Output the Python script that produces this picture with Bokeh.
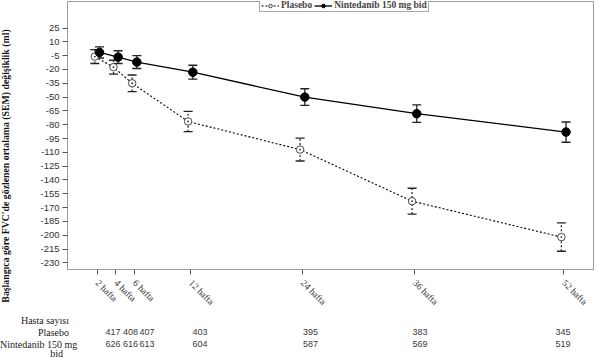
import math
from bokeh.plotting import figure
from bokeh.layouts import row, column
from bokeh.models import (ColumnDataSource, FixedTicker, Whisker, TeeHead,
                          Legend, LegendItem, Range1d, Div)
from bokeh.embed import file_html
from bokeh.resources import INLINE

# ---------------- data ----------------
weeks = [2, 4, 6, 12, 24, 36, 52]
week_labels = ["2 hafta", "4 hafta", "6 hafta", "12 hafta", "24 hafta", "36 hafta", "52 hafta"]
placebo_mean = [-6, -17.5, -35, -76.5, -107, -163, -202]
placebo_sem = [7.5, 7.5, 9, 11, 12.4, 14, 15.4]
ninte_mean = [-1.5, -6.6, -12, -23, -50, -68, -88]
ninte_sem = [6, 7, 7, 7.5, 9, 9.5, 11]
n_placebo = ["417", "408", "407", "403", "395", "383", "345"]
n_ninte = ["626", "616", "613", "604", "587", "569", "519"]
y_ticks = [25, 10, -5, -20, -35, -50, -65, -80, -95, -110, -125, -140, -155,
           -170, -185, -200, -215, -230]
series_names = ["Plasebo", "Nintedanib 150 mg bid"]
table_title = "Hasta sayısı"
row_names = ["Plasebo", "Nintedanib 150 mg", "bid"]
y_title = "Başlangıca göre FVC'de gözlenen ortalama (SEM) değişiklik (ml)"

# ---------------- layout (pixels) ----------------
W, H = 594, 358
TW = 12                      # y-title strip width
MH = 313                     # height of chart row
FL, FT, FB = 67, 1, 271      # frame left / top / bottom
X0, X1 = -1.18, 55.3
Y0, Y1 = -237.2, 53.8
DODGE = 0.25
count_px = [113, 130.5, 147, 200, 310.5, 420, 563]     # table column centres
row_top = [3, 15, 26.5, 36]                             # table row tops (in table area)
row_right = [69, 69, 70, 63]                            # right edges of row names

# ---------------- y-title strip ----------------
title_div = Div(
    text=('<div style="position:relative;width:%dpx;height:%dpx;">'
          '<div style="position:absolute;left:%.1fpx;top:%.1fpx;width:300px;height:10px;'
          'line-height:10px;text-align:center;font-family:\'Liberation Serif\';'
          'font-weight:bold;font-size:9.8px;color:#111111;white-space:nowrap;'
          'transform:rotate(-90deg);transform-origin:50%% 50%%;">%s</div></div>')
    % (TW, MH, 5.5 - 150, 166 - 5, y_title),
    width=TW, height=MH, margin=(0, 0, 0, 0))

# ---------------- main chart ----------------
p = figure(width=W - TW, height=MH, output_backend="svg", toolbar_location=None,
           x_range=Range1d(X0, X1), y_range=Range1d(Y0, Y1),
           min_border_left=FL - TW, min_border_right=0, min_border_top=FT,
           min_border_bottom=MH - FB)
p.grid.visible = False
p.outline_line_color = "#9a9a9a"
p.outline_line_width = 1

p.yaxis.ticker = FixedTicker(ticks=y_ticks)
p.yaxis.major_label_overrides = {v: str(v) for v in y_ticks}
p.xaxis.ticker = FixedTicker(ticks=weeks)
p.xaxis.major_label_overrides = dict(zip(weeks, week_labels))
p.xaxis.major_label_orientation = -math.pi / 4
for ax in (p.xaxis, p.yaxis):
    ax.axis_line_color = "#9a9a9a"
    ax.major_tick_line_color = "#555555"
    ax.major_tick_out = 5
    ax.major_tick_in = 0
    ax.minor_tick_line_color = None
    ax.major_label_text_color = "#333333"
p.yaxis.major_label_text_font = "Liberation Sans"
p.yaxis.major_label_text_font_size = "9.5px"
p.yaxis.major_label_standoff = 3
p.xaxis.major_label_text_font = "Liberation Serif"
p.xaxis.major_label_text_font_size = "9.5px"
p.xaxis.major_label_standoff = 7

src_p = ColumnDataSource(dict(x=[w - DODGE for w in weeks], y=placebo_mean,
                              lo=[m - s for m, s in zip(placebo_mean, placebo_sem)],
                              hi=[m + s for m, s in zip(placebo_mean, placebo_sem)]))
src_n = ColumnDataSource(dict(x=[w + DODGE for w in weeks], y=ninte_mean,
                              lo=[m - s for m, s in zip(ninte_mean, ninte_sem)],
                              hi=[m + s for m, s in zip(ninte_mean, ninte_sem)]))

wp = Whisker(base="x", upper="hi", lower="lo", source=src_p, line_color="#222222",
             line_width=1.2, line_dash="2 2",
             upper_head=TeeHead(size=9, line_color="#222222", line_width=1.3),
             lower_head=TeeHead(size=9, line_color="#222222", line_width=1.3))
wn = Whisker(base="x", upper="hi", lower="lo", source=src_n, line_color="#444444",
             line_width=1.5,
             upper_head=TeeHead(size=9, line_color="#222222", line_width=1.4),
             lower_head=TeeHead(size=9, line_color="#222222", line_width=1.4))
p.add_layout(wp)
p.add_layout(wn)

lp = p.line("x", "y", source=src_p, line_color="black", line_width=1.1, line_dash="2 2")
sp = p.scatter("x", "y", source=src_p, marker="circle_dot", size=7.5, fill_color="white",
               line_color="#333333", line_width=0.9)
ln = p.line("x", "y", source=src_n, line_color="black", line_width=1.3)
sn = p.scatter("x", "y", source=src_n, marker="circle", size=8.5, fill_color="black",
               line_color="black")

legend = Legend(items=[LegendItem(label=series_names[0], renderers=[lp, sp]),
                       LegendItem(label=series_names[1], renderers=[ln, sn])],
                orientation="horizontal", location=(192, 257), margin=0, padding=1,
                spacing=2, glyph_width=18, glyph_height=9, label_height=9,
                label_standoff=2, label_text_font="Liberation Serif",
                label_text_font_style="bold", label_text_font_size="9.5px",
                border_line_color="#555555", border_line_width=1,
                background_fill_alpha=1)
p.add_layout(legend)

# ---------------- patient-count table ----------------
def cell(text, left, top, width, align, family, size, color):
    return ('<div style="position:absolute;left:%.1fpx;top:%.1fpx;width:%.1fpx;'
            'text-align:%s;font-family:\'%s\';font-size:%.1fpx;line-height:9px;'
            'color:%s;white-space:nowrap;">%s</div>'
            % (left, top, width, align, family, size, color, text))

cells = []
for txt, top, right in zip([table_title] + row_names, row_top, row_right):
    cells.append(cell(txt, 0, top, right, "right", "Liberation Serif", 10, "#1a1a1a"))
for cx, a, b in zip(count_px, n_placebo, n_ninte):
    cells.append(cell(a, cx - 15, row_top[1], 30, "center", "Liberation Sans", 9, "#3a3a3a"))
    cells.append(cell(b, cx - 15, row_top[2], 30, "center", "Liberation Sans", 9, "#3a3a3a"))
table = Div(text='<div style="position:relative;width:%dpx;height:%dpx;">%s</div>'
            % (W, H - MH, "".join(cells)), width=W, height=H - MH, margin=(0, 0, 0, 0))

layout = column(row(title_div, p, spacing=0), table, spacing=0)
open("out.html", "w").write(file_html(layout, INLINE))
